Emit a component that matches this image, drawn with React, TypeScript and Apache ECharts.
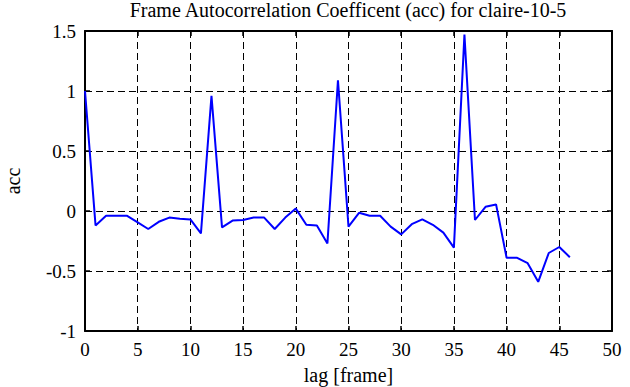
import React, { useEffect, useRef } from "react";
import * as echarts from "echarts";

const titleText = "Frame Autocorrelation Coefficent (acc) for claire-10-5";
const xName = "lag [frame]";
const yName = "acc";
const lags = Array.from({ length: 47 }, (_, i) => i);
const acc = [
  1.0, -0.12, -0.04, -0.04, -0.04, -0.095, -0.15, -0.09, -0.055, -0.065,
  -0.07, -0.186, 0.96, -0.136, -0.08, -0.075, -0.055, -0.055, -0.15, -0.055,
  0.02, -0.115, -0.12, -0.27, 1.09, -0.13, -0.015, -0.04, -0.04, -0.13,
  -0.195, -0.11, -0.07, -0.115, -0.18, -0.305, 1.47, -0.075, 0.035, 0.055,
  -0.39, -0.39, -0.435, -0.59, -0.35, -0.3, -0.385,
];

const FONT = "Liberation Serif, serif";

function mkLabel() {
  return {
    show: true,
    fontFamily: FONT,
    fontSize: 19,
    color: "#000",
    margin: 9,
  };
}

export default function App() {
  const ref = useRef<HTMLDivElement>(null);
  useEffect(() => {
    if (!ref.current) return;
    const chart = echarts.init(ref.current, null, { renderer: "svg" });
    const mkLine = () => ({ show: true, onZero: false, lineStyle: { color: "#000", width: 2 } });
    const mkTick = () => ({ show: true, inside: true, length: 5, lineStyle: { color: "#000", width: 1.5 } });
    const mkSplit = () => ({ show: true, lineStyle: { color: "#000", width: 1, type: [7, 4] } });
    chart.setOption({
      animation: false,
      backgroundColor: "#fff",
      textStyle: { fontFamily: FONT, fontSize: 18, color: "#000" },
      grid: {
        left: 85,
        right: 18,
        top: 31,
        bottom: 56,
        containLabel: false,
        outerBoundsMode: "none",
      },
      graphic: [
        {
          type: "text",
          x: 348,
          y: 10,
          style: {
            text: titleText,
            fontFamily: FONT,
            fontSize: 20,
            fill: "#000",
            textAlign: "center",
            textVerticalAlign: "middle",
          },
        },
      ],
      xAxis: [
        {
          type: "value",
          min: 0,
          max: 50,
          interval: 5,
          name: xName,
          nameLocation: "middle",
          nameGap: 34,
          nameTextStyle: { fontFamily: FONT, fontSize: 20, color: "#000" },
          axisLine: mkLine(),
          axisTick: mkTick(),
          splitLine: mkSplit(),
          axisLabel: mkLabel(),
        },
        {
          type: "value",
          position: "top",
          min: 0,
          max: 50,
          interval: 5,
          axisLine: mkLine(),
          axisTick: mkTick(),
          splitLine: { show: false },
          axisLabel: { show: false },
        },
      ],
      yAxis: [
        {
          type: "value",
          min: -1,
          max: 1.5,
          interval: 0.5,
          name: yName,
          nameLocation: "middle",
          nameGap: 62,
          nameTextStyle: { fontFamily: FONT, fontSize: 20, color: "#000" },
          axisLine: mkLine(),
          axisTick: mkTick(),
          splitLine: mkSplit(),
          axisLabel: mkLabel(),
        },
        {
          type: "value",
          position: "right",
          min: -1,
          max: 1.5,
          interval: 0.5,
          axisLine: mkLine(),
          axisTick: mkTick(),
          splitLine: { show: false },
          axisLabel: { show: false },
        },
      ],
      series: [
        {
          type: "line",
          data: lags.map((l, i) => [l, acc[i]]),
          showSymbol: false,
          symbol: "none",
          lineStyle: { color: "#0000ff", width: 2 },
          itemStyle: { color: "#0000ff" },
        },
      ],
    });
    return () => chart.dispose();
  }, []);
  return (
    <div
      ref={ref}
      style={{ position: "fixed", left: 0, top: 0, width: 630, height: 387, background: "#fff" }}
    />
  );
}
